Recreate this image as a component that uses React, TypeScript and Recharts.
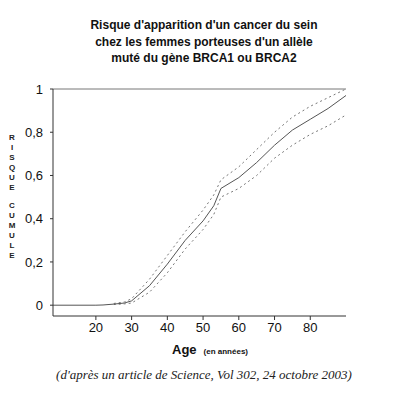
import { LineChart, Line, XAxis, YAxis, Label } from 'recharts';

const ages = [8, 15, 20, 22, 25, 28, 30, 35, 40, 45, 50, 53, 55, 60, 65, 70, 75, 80, 85, 90];
const riskCenter = [0, 0, 0, 0.001, 0.005, 0.01, 0.02, 0.09, 0.19, 0.3, 0.39, 0.46, 0.54, 0.59, 0.66, 0.74, 0.81, 0.86, 0.91, 0.97];
const riskUpper = [null, null, null, null, 0.008, 0.015, 0.03, 0.12, 0.23, 0.34, 0.44, 0.51, 0.58, 0.64, 0.72, 0.8, 0.87, 0.92, 0.96, 1.0];
const riskLower = [null, null, null, null, 0.003, 0.006, 0.01, 0.06, 0.15, 0.26, 0.35, 0.42, 0.5, 0.54, 0.6, 0.68, 0.74, 0.79, 0.83, 0.88];

const ageTicks = [20, 30, 40, 50, 60, 70, 80];
const riskTicks = [0, 0.2, 0.4, 0.6, 0.8, 1];

const titleLines = [
  "Risque d'apparition d'un cancer du sein",
  "chez les femmes porteuses d'un allèle",
  'muté du gène BRCA1 ou BRCA2',
];
const yLabelWords = ['RISQUE', 'CUMULE'];
const source = "(d'après un article de Science, Vol 302, 24 octobre 2003)";

const data = ages.map((age, i) => ({
  age,
  center: riskCenter[i],
  upper: riskUpper[i],
  lower: riskLower[i],
}));

const sans = "'Liberation Sans', Arial, sans-serif";

function StackedYLabel() {
  const letters: { ch: string; y: number }[] = [];
  let y = 140;
  yLabelWords.forEach((w) => {
    for (const ch of w) {
      letters.push({ ch, y });
      y += 10;
    }
    y += 8;
  });
  return (
    <g>
      {letters.map((l, i) => (
        <text key={i} x={12} y={l.y} textAnchor="middle" fontSize={8} fontWeight="bold" fontFamily={sans} fill="#222">
          {l.ch}
        </text>
      ))}
    </g>
  );
}

function AgeLabel() {
  return (
    <text x={172} y={354} fontFamily={sans} fill="#111">
      <tspan fontSize={13} fontWeight="bold">Age</tspan>
      <tspan dx={7} fontSize={8} fontWeight="bold">(en années)</tspan>
    </text>
  );
}

export default function App() {
  return (
    <div style={{ position: 'absolute', left: 0, top: 0, width: 400, height: 400, background: '#fff' }}>
      <div
        style={{
          position: 'absolute',
          left: 0,
          top: 17,
          width: 408,
          textAlign: 'center',
          fontFamily: sans,
          fontWeight: 'bold',
          fontSize: 12,
          lineHeight: '16.5px',
          color: '#111',
        }}
      >
        {titleLines.map((t) => (
          <div key={t}>{t}</div>
        ))}
      </div>
      <LineChart width={400} height={400} data={data} margin={{ top: 88, right: 54, bottom: 54, left: 0 }}>
        <XAxis
          dataKey="age"
          type="number"
          domain={[8, 90]}
          ticks={ageTicks}
          allowDataOverflow
          stroke="#333"
          tickSize={4}
          tickMargin={3}
          height={30}
          tick={{ fontSize: 13, fill: '#111', fontFamily: sans }}
        >
          <Label content={<AgeLabel />} />
        </XAxis>
        <XAxis
          xAxisId="top"
          orientation="top"
          dataKey="age"
          type="number"
          domain={[8, 90]}
          tick={false}
          tickLine={false}
          height={1}
          stroke="#777"
        />
        <YAxis
          type="number"
          domain={[-0.05, 1]}
          ticks={riskTicks}
          allowDataOverflow
          width={53}
          stroke="#333"
          tickSize={3}
          tickMargin={7}
          tickFormatter={(v: number) => String(v).replace('.', ',')}
          tick={{ fontSize: 13, fill: '#111', fontFamily: sans }}
        >
          <Label content={<StackedYLabel />} />
        </YAxis>
        <YAxis yAxisId="right" orientation="right" domain={[-0.05, 1]} tick={false} width={0} stroke="#333" />
        <Line type="linear" dataKey="upper" stroke="#777" strokeWidth={1} strokeDasharray="2 3" dot={false} isAnimationActive={false} connectNulls={false} />
        <Line type="linear" dataKey="lower" stroke="#777" strokeWidth={1} strokeDasharray="2 3" dot={false} isAnimationActive={false} connectNulls={false} />
        <Line type="linear" dataKey="center" stroke="#555" strokeWidth={1} dot={false} isAnimationActive={false} />
      </LineChart>
      <div
        style={{
          position: 'absolute',
          left: 0,
          top: 367,
          width: 408,
          textAlign: 'center',
          fontFamily: "'Liberation Serif', 'Times New Roman', serif",
          fontStyle: 'italic',
          fontSize: 13,
          color: '#222',
        }}
      >
        {source}
      </div>
    </div>
  );
}
